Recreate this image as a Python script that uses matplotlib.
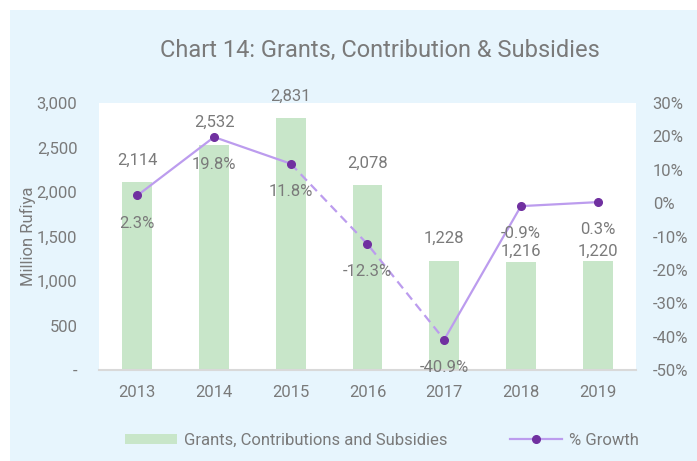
import matplotlib
matplotlib.use('Agg')
import matplotlib.pyplot as plt
from matplotlib.patches import Rectangle, Patch
from matplotlib.lines import Line2D

plt.rcParams['font.family'] = ['Roboto', 'DejaVu Sans']

years = ['2013', '2014', '2015', '2016', '2017', '2018', '2019']
grants = [2114, 2532, 2831, 2078, 1228, 1216, 1220]
growth = [2.3, 19.8, 11.8, -12.3, -40.9, -0.9, 0.3]
# label offsets above the bar tops (points)
bar_lbl_off = [15.8, 15.8, 15.8, 15.8, 15.8, 7.2, 7.2]

txt = '#7a7a7a'
bar_c = '#c8e6c9'
line_c = '#bc9cee'
mark_c = '#7030a0'
bg = '#e7f5fd'

W, H = 697, 461
fig = plt.figure(figsize=(W / 100, H / 100), dpi=100)
fig.patch.set_facecolor('white')
fig.patches.append(Rectangle((10 / W, 0), 1, 1 - 10 / H, transform=fig.transFigure,
                             facecolor=bg, edgecolor='none', zorder=-1))

ax = fig.add_axes([99 / W, (H - 370) / H, 537 / W, 267 / H])
ax.set_facecolor('white')
x = range(len(years))
ax.bar(x, grants, width=0.39, color=bar_c, zorder=2)
ax.set_ylim(0, 3000)
ax.set_xlim(-0.5, len(years) - 0.5)
ax.set_yticks(range(0, 3001, 500))
ax.set_yticklabels(['-'] + [f'{v:,}' for v in range(500, 3001, 500)])
ax.set_xticks(list(x))
ax.set_xticklabels(years)
ax.tick_params(length=0, labelsize=12, colors=txt)
ax.tick_params(axis='y', pad=15.5)
ax.tick_params(axis='x', pad=11)
for s in ['top', 'right', 'left']:
    ax.spines[s].set_visible(False)
ax.spines['bottom'].set_color('#d9d9d9')
ax.spines['bottom'].set_linewidth(1.5)
ax.spines['bottom'].set_zorder(3)
ax.set_ylabel('Million Rufiya', fontsize=12, color=txt)
ax.yaxis.set_label_coords((36 - 99) / 537, 0.5)

for i, v in enumerate(grants):
    ax.annotate(f'{v:,}', (i, v), xytext=(0, bar_lbl_off[i]), textcoords='offset points',
                ha='center', va='center', fontsize=12, color=txt, zorder=5)

ax2 = ax.twinx()
ax2.set_ylim(-50, 30)
ax2.set_yticks(range(-50, 31, 10))
ax2.set_yticklabels([f'{v}%' for v in range(-50, 31, 10)])
ax2.tick_params(length=0, labelsize=12, colors=txt, pad=12)
for s in ax2.spines.values():
    s.set_visible(False)

xs = list(x)
ax2.plot(xs[:3], growth[:3], color=line_c, lw=1.6, zorder=3)
ax2.plot(xs[2:5], growth[2:5], color=line_c, lw=1.6, ls=(0, (4, 2.5)), zorder=3)
ax2.plot(xs[4:], growth[4:], color=line_c, lw=1.6, zorder=3)
ax2.plot(xs, growth, ls='none', marker='o', ms=5.5, color=mark_c, zorder=4)
for i, v in enumerate(growth):
    ax2.annotate(f'{v:.1f}%', (i, v), xytext=(0, -20), textcoords='offset points',
                 ha='center', va='center', fontsize=12, color=txt, zorder=5)

fig.text(380 / W, 1 - 50 / H, 'Chart 14: Grants, Contribution & Subsidies',
         ha='center', va='center', fontsize=17, color=txt)

handles = [Patch(facecolor=bar_c, edgecolor='none'),
           Line2D([], [], color=line_c, lw=1.6, marker='o', ms=5.5,
                  markerfacecolor=mark_c, markeredgecolor=mark_c)]
fig.legend(handles, ['Grants, Contributions and Subsidies', '% Growth'],
           loc='center', bbox_to_anchor=(382 / W, 1 - 440 / H), ncol=2, frameon=False,
           fontsize=12, labelcolor=txt, handlelength=3.1, handleheight=0.55,
           columnspacing=3.8, handletextpad=0.4)

fig.savefig('out.png', dpi=100, facecolor=fig.get_facecolor())
